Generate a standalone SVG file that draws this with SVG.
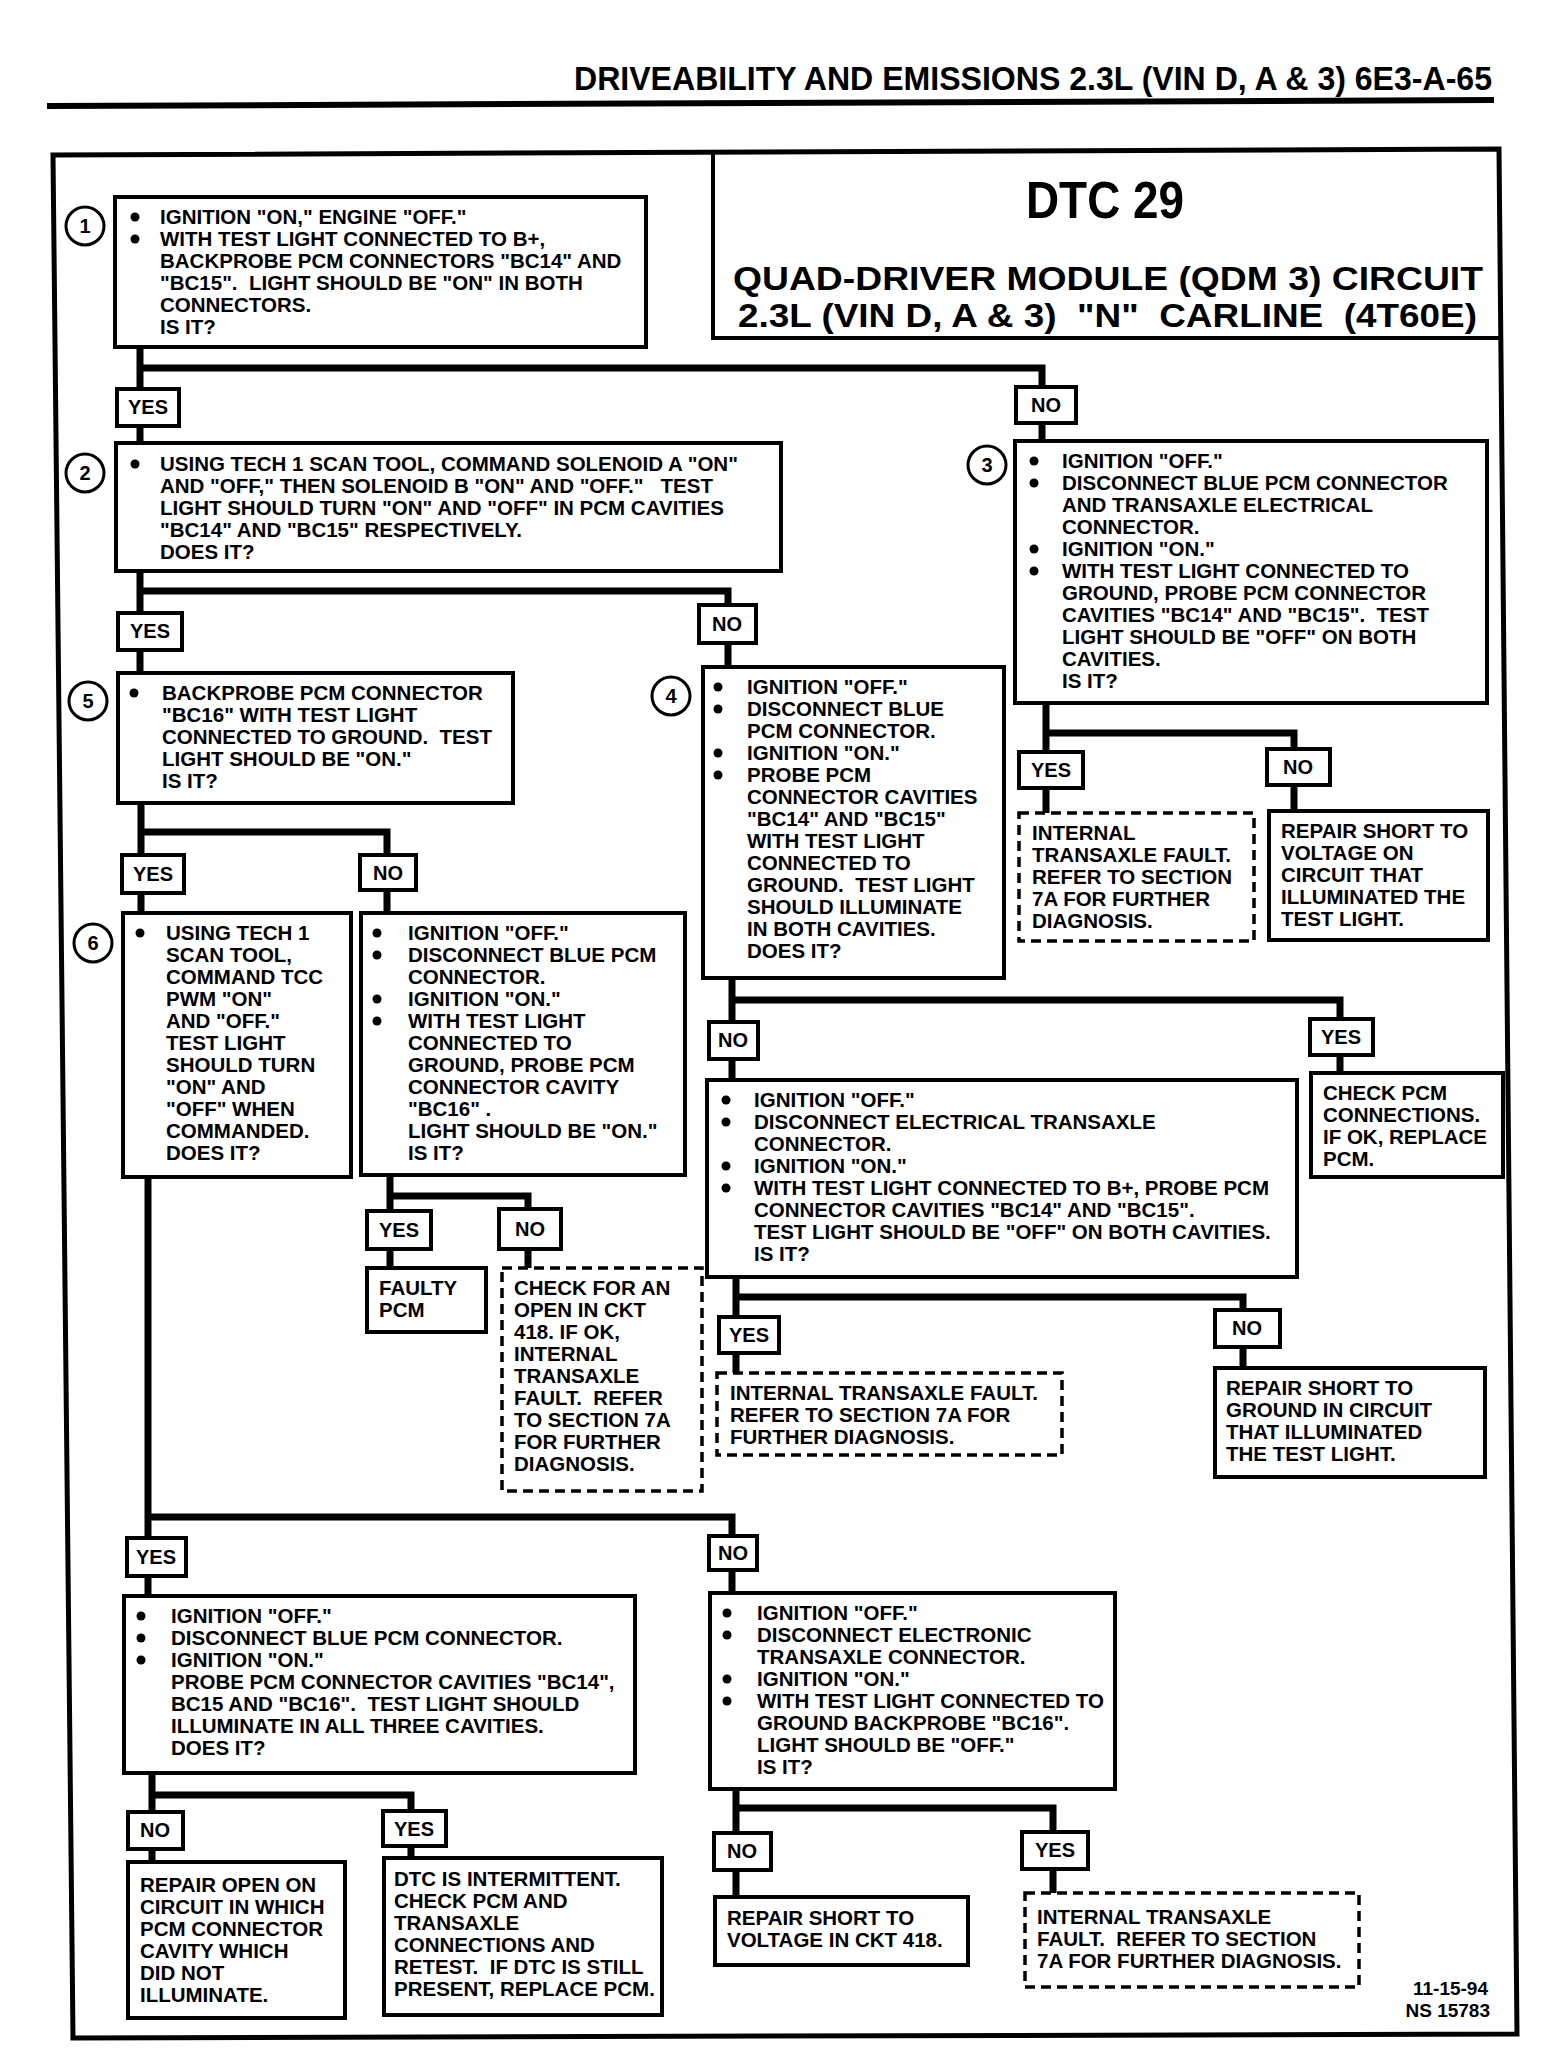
<svg xmlns="http://www.w3.org/2000/svg" width="1552" height="2050" viewBox="0 0 1552 2050">
<style>
.t{font-family:"Liberation Sans",Arial,sans-serif;font-weight:bold;font-size:20.5px;fill:#000;white-space:pre}
.b{fill:#fff;stroke:#000;stroke-width:4}
.d{fill:#fff;stroke:#000;stroke-width:3.5;stroke-dasharray:10 6}
.c{fill:none;stroke:#000;stroke-width:7;stroke-linecap:square}
.lb{fill:#fff;stroke:#000;stroke-width:4}
.lt{font-family:"Liberation Sans",Arial,sans-serif;font-weight:bold;font-size:20px;text-anchor:middle}
.nc{fill:#fff;stroke:#000;stroke-width:3}
.nt{font-family:"Liberation Sans",Arial,sans-serif;font-weight:bold;font-size:20px;text-anchor:middle}
.h{font-family:"Liberation Sans",Arial,sans-serif;font-weight:bold}
</style>
<rect width="1552" height="2050" fill="#fff"/>
<g id="header">
<text class="h" x="574" y="90" font-size="33" textLength="918" lengthAdjust="spacingAndGlyphs">DRIVEABILITY AND EMISSIONS 2.3L  (VIN D, A &amp; 3) 6E3-A-65</text>
<path d="M47,106 L1494,100" stroke="#000" stroke-width="6"/>
</g>
<g id="frame">
<polygon points="53,155 1499,149 1517,2034 73,2038" fill="none" stroke="#000" stroke-width="5"/>
</g>
<g id="title">
<path d="M713,151 V338 H1501" fill="none" stroke="#000" stroke-width="4"/>
<text class="h" x="1105" y="218" font-size="52" text-anchor="middle" textLength="158" lengthAdjust="spacingAndGlyphs">DTC 29</text>
<text class="h" x="733" y="290" font-size="33" textLength="750" lengthAdjust="spacingAndGlyphs">QUAD-DRIVER MODULE (QDM 3) CIRCUIT</text>
<text class="h" x="738" y="327" font-size="33" textLength="739" lengthAdjust="spacingAndGlyphs" style="white-space:pre">2.3L (VIN D, A &amp; 3)  "N"  CARLINE  (4T60E)</text>
</g>
<g id="connectors">
<path class="c" d="M140,347 V443 M140,368 H1042 V441"/>
<path class="c" d="M140,571 V673 M140,591 H728 V668"/>
<path class="c" d="M1046,703 V813 M1046,733 H1294 V811"/>
<path class="c" d="M141,803 V913 M141,832 H387 V913"/>
<path class="c" d="M390,1175 V1268 M390,1196 H528 V1268"/>
<path class="c" d="M732,978 V1080 M732,1000 H1340 V1073"/>
<path class="c" d="M736,1277 V1373 M736,1297 H1243 V1368"/>
<path class="c" d="M148,1177 V1596 M148,1517 H732 V1593"/>
<path class="c" d="M152,1773 V1862 M152,1795 H411 V1858"/>
<path class="c" d="M736,1789 V1897 M736,1808 H1053 V1893"/>
<g id="labels">
<rect class="lb" x="117" y="389" width="62" height="37"/><text class="lt" x="148" y="414">YES</text>
<rect class="lb" x="1016" y="387" width="60" height="36"/><text class="lt" x="1046" y="412">NO</text>
<rect class="lb" x="118" y="613" width="64" height="37"/><text class="lt" x="150" y="638">YES</text>
<rect class="lb" x="699" y="605" width="57" height="38"/><text class="lt" x="727" y="631">NO</text>
<rect class="lb" x="1019" y="752" width="64" height="36"/><text class="lt" x="1051" y="777">YES</text>
<rect class="lb" x="1267" y="749" width="63" height="36"/><text class="lt" x="1298" y="774">NO</text>
<rect class="lb" x="122" y="855" width="62" height="38"/><text class="lt" x="153" y="881">YES</text>
<rect class="lb" x="360" y="855" width="56" height="35"/><text class="lt" x="388" y="880">NO</text>
<rect class="lb" x="367" y="1211" width="64" height="38"/><text class="lt" x="399" y="1237">YES</text>
<rect class="lb" x="499" y="1209" width="62" height="40"/><text class="lt" x="530" y="1236">NO</text>
<rect class="lb" x="709" y="1022" width="49" height="37"/><text class="lt" x="733" y="1047">NO</text>
<rect class="lb" x="1310" y="1019" width="63" height="36"/><text class="lt" x="1341" y="1044">YES</text>
<rect class="lb" x="719" y="1317" width="60" height="36"/><text class="lt" x="749" y="1342">YES</text>
<rect class="lb" x="1215" y="1310" width="65" height="37"/><text class="lt" x="1247" y="1335">NO</text>
<rect class="lb" x="127" y="1538" width="59" height="38"/><text class="lt" x="156" y="1564">YES</text>
<rect class="lb" x="709" y="1536" width="48" height="34"/><text class="lt" x="733" y="1560">NO</text>
<rect class="lb" x="128" y="1812" width="55" height="37"/><text class="lt" x="155" y="1837">NO</text>
<rect class="lb" x="383" y="1811" width="63" height="35"/><text class="lt" x="414" y="1836">YES</text>
<rect class="lb" x="714" y="1833" width="57" height="37"/><text class="lt" x="742" y="1858">NO</text>
<rect class="lb" x="1022" y="1832" width="66" height="37"/><text class="lt" x="1055" y="1857">YES</text>
</g>
</g>
<g id="step1">
<rect class="b" x="115" y="197" width="531" height="150"/>
<circle class="nc" cx="85" cy="226" r="19"/><text class="nt" x="85" y="233">1</text>
<circle cx="135" cy="217" r="4.5"/><circle cx="135" cy="239" r="4.5"/>
<text class="t"><tspan x="160" y="224">IGNITION "ON," ENGINE "OFF."</tspan><tspan x="160" y="246">WITH TEST LIGHT CONNECTED TO B+,</tspan><tspan x="160" y="268">BACKPROBE PCM CONNECTORS "BC14" AND</tspan><tspan x="160" y="290">"BC15".  LIGHT SHOULD BE "ON" IN BOTH</tspan><tspan x="160" y="312">CONNECTORS.</tspan><tspan x="160" y="334">IS IT?</tspan></text>
</g>
<g id="step2">
<rect class="b" x="116" y="443" width="665" height="128"/>
<circle class="nc" cx="85" cy="473" r="19"/><text class="nt" x="85" y="480">2</text>
<circle cx="135" cy="464" r="4.5"/>
<text class="t"><tspan x="160" y="471">USING TECH 1 SCAN TOOL, COMMAND SOLENOID A "ON"</tspan><tspan x="160" y="493">AND "OFF," THEN SOLENOID B "ON" AND "OFF."   TEST</tspan><tspan x="160" y="515">LIGHT SHOULD TURN "ON" AND "OFF" IN PCM CAVITIES</tspan><tspan x="160" y="537">"BC14" AND "BC15" RESPECTIVELY.</tspan><tspan x="160" y="559">DOES IT?</tspan></text>
</g>
<g id="step3">
<rect class="b" x="1015" y="441" width="472" height="262"/>
<circle class="nc" cx="987" cy="465" r="19"/><text class="nt" x="987" y="472">3</text>
<circle cx="1034" cy="461" r="4.5"/><circle cx="1034" cy="483" r="4.5"/><circle cx="1034" cy="549" r="4.5"/><circle cx="1034" cy="571" r="4.5"/>
<text class="t"><tspan x="1062" y="468">IGNITION "OFF."</tspan><tspan x="1062" y="490">DISCONNECT BLUE PCM CONNECTOR</tspan><tspan x="1062" y="512">AND TRANSAXLE ELECTRICAL</tspan><tspan x="1062" y="534">CONNECTOR.</tspan><tspan x="1062" y="556">IGNITION "ON."</tspan><tspan x="1062" y="578">WITH TEST LIGHT CONNECTED TO</tspan><tspan x="1062" y="600">GROUND, PROBE PCM CONNECTOR</tspan><tspan x="1062" y="622">CAVITIES "BC14" AND "BC15".  TEST</tspan><tspan x="1062" y="644">LIGHT SHOULD BE "OFF" ON BOTH</tspan><tspan x="1062" y="666">CAVITIES.</tspan><tspan x="1062" y="688">IS IT?</tspan></text>
</g>
<g id="step3-yes">
<rect class="d" x="1019" y="813" width="235" height="128"/>
<text class="t"><tspan x="1032" y="840">INTERNAL</tspan><tspan x="1032" y="862">TRANSAXLE FAULT.</tspan><tspan x="1032" y="884">REFER TO SECTION</tspan><tspan x="1032" y="906">7A FOR FURTHER</tspan><tspan x="1032" y="928">DIAGNOSIS.</tspan></text>
</g>
<g id="step3-no">
<rect class="b" x="1269" y="811" width="219" height="129"/>
<text class="t"><tspan x="1281" y="838">REPAIR SHORT TO</tspan><tspan x="1281" y="860">VOLTAGE ON</tspan><tspan x="1281" y="882">CIRCUIT THAT</tspan><tspan x="1281" y="904">ILLUMINATED THE</tspan><tspan x="1281" y="926">TEST LIGHT.</tspan></text>
</g>
<g id="step4">
<rect class="b" x="703" y="667" width="301" height="311"/>
<circle class="nc" cx="671" cy="696" r="19"/><text class="nt" x="671" y="703">4</text>
<circle cx="718" cy="687" r="4.5"/><circle cx="718" cy="709" r="4.5"/><circle cx="718" cy="753" r="4.5"/><circle cx="718" cy="775" r="4.5"/>
<text class="t"><tspan x="747" y="694">IGNITION "OFF."</tspan><tspan x="747" y="716">DISCONNECT BLUE</tspan><tspan x="747" y="738">PCM CONNECTOR.</tspan><tspan x="747" y="760">IGNITION "ON."</tspan><tspan x="747" y="782">PROBE PCM</tspan><tspan x="747" y="804">CONNECTOR CAVITIES</tspan><tspan x="747" y="826">"BC14" AND "BC15"</tspan><tspan x="747" y="848">WITH TEST LIGHT</tspan><tspan x="747" y="870">CONNECTED TO</tspan><tspan x="747" y="892">GROUND.  TEST LIGHT</tspan><tspan x="747" y="914">SHOULD ILLUMINATE</tspan><tspan x="747" y="936">IN BOTH CAVITIES.</tspan><tspan x="747" y="958">DOES IT?</tspan></text>
</g>
<g id="step5">
<rect class="b" x="118" y="673" width="395" height="130"/>
<circle class="nc" cx="88" cy="701" r="19"/><text class="nt" x="88" y="708">5</text>
<circle cx="134" cy="693" r="4.5"/>
<text class="t"><tspan x="162" y="700">BACKPROBE PCM CONNECTOR</tspan><tspan x="162" y="722">"BC16" WITH TEST LIGHT</tspan><tspan x="162" y="744">CONNECTED TO GROUND.  TEST</tspan><tspan x="162" y="766">LIGHT SHOULD BE "ON."</tspan><tspan x="162" y="788">IS IT?</tspan></text>
</g>
<g id="step6">
<rect class="b" x="123" y="913" width="228" height="264"/>
<circle class="nc" cx="93" cy="943" r="19"/><text class="nt" x="93" y="950">6</text>
<circle cx="140" cy="933" r="4.5"/>
<text class="t"><tspan x="166" y="940">USING TECH 1</tspan><tspan x="166" y="962">SCAN TOOL,</tspan><tspan x="166" y="984">COMMAND TCC</tspan><tspan x="166" y="1006">PWM "ON"</tspan><tspan x="166" y="1028">AND "OFF."</tspan><tspan x="166" y="1050">TEST LIGHT</tspan><tspan x="166" y="1072">SHOULD TURN</tspan><tspan x="166" y="1094">"ON" AND</tspan><tspan x="166" y="1116">"OFF" WHEN</tspan><tspan x="166" y="1138">COMMANDED.</tspan><tspan x="166" y="1160">DOES IT?</tspan></text>
</g>
<g id="step7">
<rect class="b" x="361" y="913" width="324" height="262"/>
<circle cx="377" cy="933" r="4.5"/><circle cx="377" cy="955" r="4.5"/><circle cx="377" cy="999" r="4.5"/><circle cx="377" cy="1021" r="4.5"/>
<text class="t"><tspan x="408" y="940">IGNITION "OFF."</tspan><tspan x="408" y="962">DISCONNECT BLUE PCM</tspan><tspan x="408" y="984">CONNECTOR.</tspan><tspan x="408" y="1006">IGNITION "ON."</tspan><tspan x="408" y="1028">WITH TEST LIGHT</tspan><tspan x="408" y="1050">CONNECTED TO</tspan><tspan x="408" y="1072">GROUND, PROBE PCM</tspan><tspan x="408" y="1094">CONNECTOR CAVITY</tspan><tspan x="408" y="1116">"BC16" .</tspan><tspan x="408" y="1138">LIGHT SHOULD BE "ON."</tspan><tspan x="408" y="1160">IS IT?</tspan></text>
</g>
<g id="step7-yes">
<rect class="b" x="367" y="1268" width="119" height="64"/>
<text class="t"><tspan x="379" y="1295">FAULTY</tspan><tspan x="379" y="1317">PCM</tspan></text>
</g>
<g id="step7-no">
<rect class="d" x="502" y="1268" width="200" height="223"/>
<text class="t"><tspan x="514" y="1295">CHECK FOR AN</tspan><tspan x="514" y="1317">OPEN IN CKT</tspan><tspan x="514" y="1339">418. IF OK,</tspan><tspan x="514" y="1361">INTERNAL</tspan><tspan x="514" y="1383">TRANSAXLE</tspan><tspan x="514" y="1405">FAULT.  REFER</tspan><tspan x="514" y="1427">TO SECTION 7A</tspan><tspan x="514" y="1449">FOR FURTHER</tspan><tspan x="514" y="1471">DIAGNOSIS.</tspan></text>
</g>
<g id="step4-yes">
<rect class="b" x="1311" y="1073" width="192" height="104"/>
<text class="t"><tspan x="1323" y="1100">CHECK PCM</tspan><tspan x="1323" y="1122">CONNECTIONS.</tspan><tspan x="1323" y="1144">IF OK, REPLACE</tspan><tspan x="1323" y="1166">PCM.</tspan></text>
</g>
<g id="step8">
<rect class="b" x="707" y="1080" width="590" height="197"/>
<circle cx="726" cy="1100" r="4.5"/><circle cx="726" cy="1122" r="4.5"/><circle cx="726" cy="1166" r="4.5"/><circle cx="726" cy="1188" r="4.5"/>
<text class="t"><tspan x="754" y="1107">IGNITION "OFF."</tspan><tspan x="754" y="1129">DISCONNECT ELECTRICAL TRANSAXLE</tspan><tspan x="754" y="1151">CONNECTOR.</tspan><tspan x="754" y="1173">IGNITION "ON."</tspan><tspan x="754" y="1195">WITH TEST LIGHT CONNECTED TO B+, PROBE PCM</tspan><tspan x="754" y="1217">CONNECTOR CAVITIES "BC14" AND "BC15".</tspan><tspan x="754" y="1239">TEST LIGHT SHOULD BE "OFF" ON BOTH CAVITIES.</tspan><tspan x="754" y="1261">IS IT?</tspan></text>
</g>
<g id="step8-yes">
<rect class="d" x="717" y="1373" width="345" height="82"/>
<text class="t"><tspan x="730" y="1400">INTERNAL TRANSAXLE FAULT.</tspan><tspan x="730" y="1422">REFER TO SECTION 7A FOR</tspan><tspan x="730" y="1444">FURTHER DIAGNOSIS.</tspan></text>
</g>
<g id="step8-no">
<rect class="b" x="1215" y="1368" width="270" height="109"/>
<text class="t"><tspan x="1226" y="1395">REPAIR SHORT TO</tspan><tspan x="1226" y="1417">GROUND IN CIRCUIT</tspan><tspan x="1226" y="1439">THAT ILLUMINATED</tspan><tspan x="1226" y="1461">THE TEST LIGHT.</tspan></text>
</g>
<g id="step9">
<rect class="b" x="124" y="1596" width="511" height="177"/>
<circle cx="141" cy="1616" r="4.5"/><circle cx="141" cy="1638" r="4.5"/><circle cx="141" cy="1660" r="4.5"/>
<text class="t"><tspan x="171" y="1623">IGNITION "OFF."</tspan><tspan x="171" y="1645">DISCONNECT BLUE PCM CONNECTOR.</tspan><tspan x="171" y="1667">IGNITION "ON."</tspan><tspan x="171" y="1689">PROBE PCM CONNECTOR CAVITIES "BC14",</tspan><tspan x="171" y="1711">BC15 AND "BC16".  TEST LIGHT SHOULD</tspan><tspan x="171" y="1733">ILLUMINATE IN ALL THREE CAVITIES.</tspan><tspan x="171" y="1755">DOES IT?</tspan></text>
</g>
<g id="step10">
<rect class="b" x="710" y="1593" width="405" height="196"/>
<circle cx="727" cy="1613" r="4.5"/><circle cx="727" cy="1635" r="4.5"/><circle cx="727" cy="1679" r="4.5"/><circle cx="727" cy="1701" r="4.5"/>
<text class="t"><tspan x="757" y="1620">IGNITION "OFF."</tspan><tspan x="757" y="1642">DISCONNECT ELECTRONIC</tspan><tspan x="757" y="1664">TRANSAXLE CONNECTOR.</tspan><tspan x="757" y="1686">IGNITION "ON."</tspan><tspan x="757" y="1708">WITH TEST LIGHT CONNECTED TO</tspan><tspan x="757" y="1730">GROUND BACKPROBE "BC16".</tspan><tspan x="757" y="1752">LIGHT SHOULD BE "OFF."</tspan><tspan x="757" y="1774">IS IT?</tspan></text>
</g>
<g id="step9-no">
<rect class="b" x="128" y="1862" width="217" height="156"/>
<text class="t"><tspan x="140" y="1892">REPAIR OPEN ON</tspan><tspan x="140" y="1914">CIRCUIT IN WHICH</tspan><tspan x="140" y="1936">PCM CONNECTOR</tspan><tspan x="140" y="1958">CAVITY WHICH</tspan><tspan x="140" y="1980">DID NOT</tspan><tspan x="140" y="2002">ILLUMINATE.</tspan></text>
</g>
<g id="step9-yes">
<rect class="b" x="384" y="1858" width="278" height="157"/>
<text class="t"><tspan x="394" y="1886">DTC IS INTERMITTENT.</tspan><tspan x="394" y="1908">CHECK PCM AND</tspan><tspan x="394" y="1930">TRANSAXLE</tspan><tspan x="394" y="1952">CONNECTIONS AND</tspan><tspan x="394" y="1974">RETEST.  IF DTC IS STILL</tspan><tspan x="394" y="1996">PRESENT, REPLACE PCM.</tspan></text>
</g>
<g id="step10-no">
<rect class="b" x="715" y="1897" width="253" height="68"/>
<text class="t"><tspan x="727" y="1925">REPAIR SHORT TO</tspan><tspan x="727" y="1947">VOLTAGE IN CKT 418.</tspan></text>
</g>
<g id="step10-yes">
<rect class="d" x="1025" y="1893" width="334" height="94"/>
<text class="t"><tspan x="1037" y="1924">INTERNAL TRANSAXLE</tspan><tspan x="1037" y="1946">FAULT.  REFER TO SECTION</tspan><tspan x="1037" y="1968">7A FOR FURTHER DIAGNOSIS.</tspan></text>
</g>
<g id="footer">
<text class="h" x="1488" y="1995" font-size="19" text-anchor="end">11-15-94</text>
<text class="h" x="1490" y="2017" font-size="19" text-anchor="end">NS 15783</text>
</g>
</svg>
